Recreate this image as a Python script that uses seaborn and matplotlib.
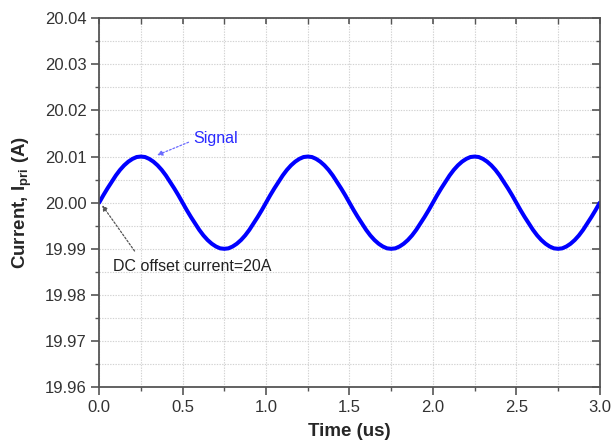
import matplotlib
matplotlib.use("Agg")
import matplotlib.pyplot as plt
import matplotlib.lines as mlines
import seaborn as sns
import pandas as pd
from matplotlib.ticker import MultipleLocator, FormatStrFormatter

# Primary current waveform, sampled every 0.025 us over three periods
time_us = [round(0.025 * i, 3) for i in range(121)]
current_a = [
    20.0000, 20.0016, 20.0031, 20.0045, 20.0059, 20.0071, 20.0081, 20.0089, 20.0095, 20.0099,
    20.0100, 20.0099, 20.0095, 20.0089, 20.0081, 20.0071, 20.0059, 20.0045, 20.0031, 20.0016,
    20.0000, 19.9984, 19.9969, 19.9955, 19.9941, 19.9929, 19.9919, 19.9911, 19.9905, 19.9901,
    19.9900, 19.9901, 19.9905, 19.9911, 19.9919, 19.9929, 19.9941, 19.9955, 19.9969, 19.9984,
    20.0000, 20.0016, 20.0031, 20.0045, 20.0059, 20.0071, 20.0081, 20.0089, 20.0095, 20.0099,
    20.0100, 20.0099, 20.0095, 20.0089, 20.0081, 20.0071, 20.0059, 20.0045, 20.0031, 20.0016,
    20.0000, 19.9984, 19.9969, 19.9955, 19.9941, 19.9929, 19.9919, 19.9911, 19.9905, 19.9901,
    19.9900, 19.9901, 19.9905, 19.9911, 19.9919, 19.9929, 19.9941, 19.9955, 19.9969, 19.9984,
    20.0000, 20.0016, 20.0031, 20.0045, 20.0059, 20.0071, 20.0081, 20.0089, 20.0095, 20.0099,
    20.0100, 20.0099, 20.0095, 20.0089, 20.0081, 20.0071, 20.0059, 20.0045, 20.0031, 20.0016,
    20.0000, 19.9984, 19.9969, 19.9955, 19.9941, 19.9929, 19.9919, 19.9911, 19.9905, 19.9901,
    19.9900, 19.9901, 19.9905, 19.9911, 19.9919, 19.9929, 19.9941, 19.9955, 19.9969, 19.9984,
    20.0000,
]
x_ticks = [0.0, 0.5, 1.0, 1.5, 2.0, 2.5, 3.0]
y_ticks = [19.96, 19.97, 19.98, 19.99, 20.00, 20.01, 20.02, 20.03, 20.04]

sns.set_theme(style="white")
plt.rcParams["font.family"] = ["Liberation Sans", "DejaVu Sans"]

df = pd.DataFrame({"Time (us)": time_us, "Current": current_a})

fig = plt.figure(figsize=(6.12, 4.44), dpi=100)
ax = fig.add_axes([0.162, 0.128, 0.818, 0.831])

sns.lineplot(data=df, x="Time (us)", y="Current", ax=ax, color="#0000ff", linewidth=2.9)

ax.set_xlim(0, 3.0)
ax.set_ylim(19.96, 20.04)
ax.set_xticks(x_ticks)
ax.set_yticks(y_ticks)
ax.xaxis.set_minor_locator(MultipleLocator(0.25))
ax.yaxis.set_minor_locator(MultipleLocator(0.005))
ax.xaxis.set_major_formatter(FormatStrFormatter("%.1f"))
ax.yaxis.set_major_formatter(FormatStrFormatter("%.2f"))

ax.grid(True, which="both", color="#d2d2d2", linestyle=(0, (1.2, 1.2)), linewidth=0.8)
ax.set_axisbelow(True)

for side in ["left", "bottom", "right", "top"]:
    ax.spines[side].set_color("#555555")
    ax.spines[side].set_linewidth(1.3)
    ax.spines[side].set_visible(True)

ax.tick_params(axis="both", which="major", direction="out", length=6, width=1.2,
               color="#555555", labelsize=12, labelcolor="#333333", pad=3)
ax.tick_params(axis="both", which="minor", direction="out", length=3, width=1.0,
               color="#555555")
ax.tick_params(axis="y", which="both", left=True, right=True, labelright=False)
ax.tick_params(axis="x", which="both", bottom=True, top=True, labeltop=False)

# right and top ticks point into the plot area
for t in ax.yaxis.get_major_ticks() + ax.yaxis.get_minor_ticks():
    t.tick2line.set_marker(mlines.TICKLEFT)
for t in ax.xaxis.get_major_ticks() + ax.xaxis.get_minor_ticks():
    t.tick2line.set_marker(mlines.TICKDOWN)
    t.tick2line.set_markersize(4.5)

ax.set_xlabel("Time (us)", fontsize=13.5, fontweight="bold", labelpad=6)
ax.set_ylabel(r"Current, I$_{\mathregular{pri}}$ (A)", fontsize=13.5, fontweight="bold",
              labelpad=8)

ax.annotate("Signal", xy=(0.347, 20.0103), xytext=(0.563, 20.0140),
            color="#2a2aff", fontsize=11.5, ha="left", va="center",
            arrowprops=dict(arrowstyle="-|>", color="#6a6aff", linestyle=(0, (1.5, 1.5)),
                            linewidth=0.9, mutation_scale=8, shrinkA=1, shrinkB=0,
                            relpos=(0.0, 0.35)))
ax.annotate("DC offset current=20A", xy=(0.018, 19.99945), xytext=(0.084, 19.9862),
            color="#222222", fontsize=11.5, ha="left", va="center",
            arrowprops=dict(arrowstyle="-|>", color="#555555", linestyle=(0, (1.5, 1.5)),
                            linewidth=0.9, mutation_scale=8, shrinkA=4, shrinkB=0,
                            relpos=(0.17, 1.0)))

fig.savefig("out.png", dpi=100)
